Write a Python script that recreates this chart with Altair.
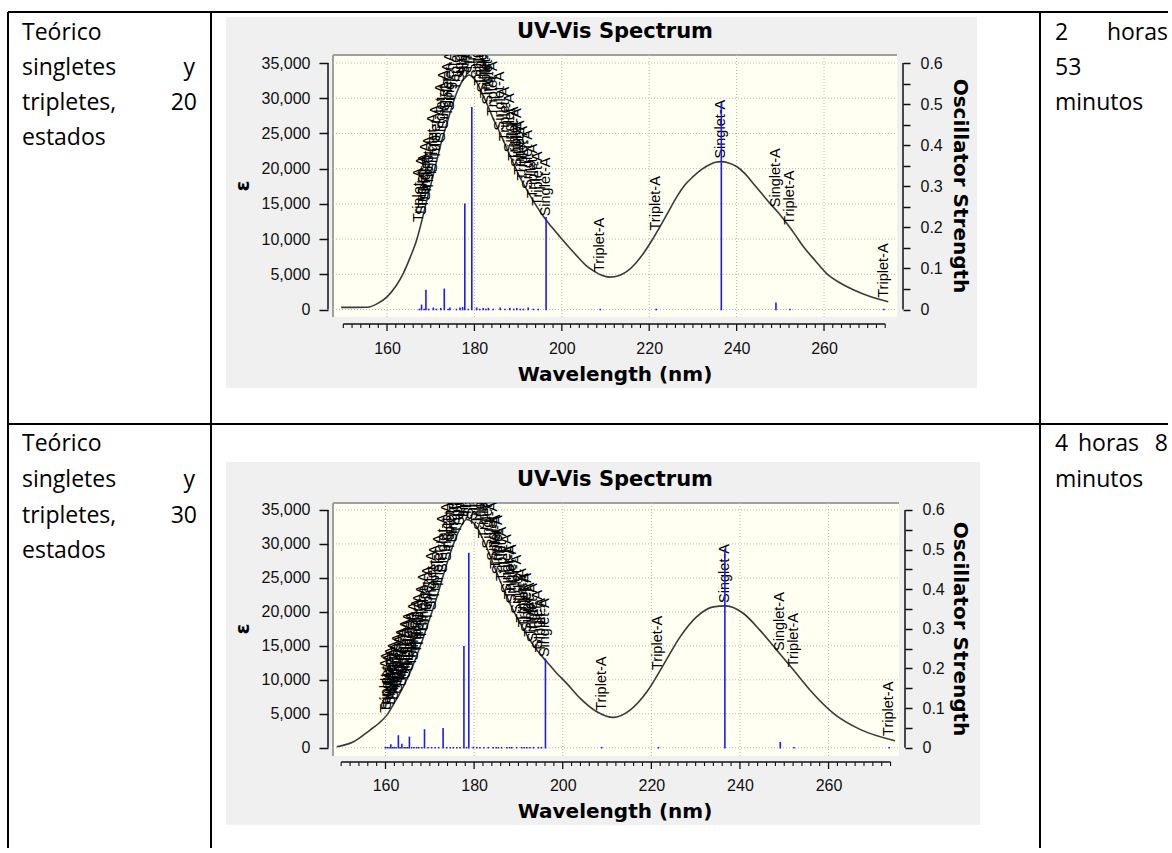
import altair as alt
import pandas as pd

# ---------------- data ----------------
# Row 1 (20 states): simulated spectrum (wavelength nm, epsilon)
r1_curve_nm = [149.5, 152.5, 155.5, 158.0, 160.0, 162.0, 163.7, 165.3, 166.8, 168.0,
               169.1, 170.3, 171.4, 172.5, 173.7, 174.8, 175.9, 177.0, 178.2, 178.8,
               179.6, 180.5, 181.6, 182.8, 184.3, 185.9, 187.4, 188.9, 190.4, 192.0,
               193.9, 195.8, 197.7, 199.6, 202.0, 204.2, 206.0, 207.5, 209.0, 211.0,
               213.0, 214.9, 216.8, 218.7, 220.6, 222.5, 224.4, 226.3, 228.2, 230.1,
               232.0, 233.9, 235.2, 236.4, 238.2, 240.0, 241.9, 243.8, 245.7, 247.6,
               249.6, 251.5, 253.4, 255.3, 257.9, 260.6, 263.6, 266.7, 270.7, 274.7]
r1_curve_eps = [300, 300, 320, 900, 1800, 3300, 5100, 7400, 9900, 12700,
                15500, 18400, 21200, 23900, 26400, 28700, 30700, 32200, 33100, 33300,
                33000, 32300, 30900, 29300, 27100, 25000, 22900, 20800, 18800, 17000,
                15000, 13200, 11700, 10300, 8600, 7100, 6000, 5400, 4900, 4600,
                4800, 5400, 6500, 8000, 9800, 11800, 13900, 16000, 17700, 18900,
                19900, 20600, 20900, 21000, 20800, 20300, 19300, 17900, 16500, 15100,
                13700, 12200, 10600, 8900, 7000, 5100, 3800, 2800, 1800, 1100]

# Row 1 transitions: wavelength, kind (S = Singlet-A, T = Triplet-A),
# oscillator strength, height (epsilon) where the label starts
r1_tr_nm = [167.4, 167.9, 168.5, 168.9, 169.5, 170.6, 171.3, 172.3, 173.1, 174.0,
            174.4, 175.9, 176.7, 177.3, 177.8, 178.6, 179.4, 180.5, 181.2, 182.0,
            182.6, 183.2, 184.3, 185.9, 187.0, 188.1, 189.0, 189.7, 190.5, 191.2,
            192.3, 193.5, 194.6, 196.4, 208.8, 221.6, 236.5, 249.0, 252.2, 273.7]
r1_tr_kind = ["T", "S", "T", "S", "T", "S", "T", "S", "S", "T",
              "S", "T", "S", "S", "S", "T", "S", "S", "T", "S",
              "T", "S", "T", "S", "T", "S", "T", "S", "T", "T",
              "S", "T", "T", "S", "T", "T", "S", "S", "T", "T"]
r1_tr_osc = [0, 0.010, 0, 0.046, 0, 0.003, 0, 0.002, 0.049, 0,
             0.003, 0, 0.003, 0.004, 0.256, 0, 0.491, 0.003, 0, 0.002,
             0, 0.002, 0, 0.003, 0, 0.002, 0, 0.002, 0, 0,
             0.003, 0, 0, 0.2235, 0, 0, 0.50, 0.015, 0, 0]
r1_tr_eps = [12000, 13000, 14000, 15000, 16500, 19000, 20900, 23400, 25200, 27000,
             27800, 30700, 31800, 32400, 32800, 33300, 33100, 32300, 31400, 30400,
             29600, 28700, 27100, 25000, 23500, 21900, 20700, 19800, 18700, 17900,
             16700, 15400, 14300, 12800, 4900, 10800, 21000, 14100, 11600, 1250]

# Row 2 (30 states)
r2_curve_nm = [149.0, 152.8, 156.5, 158.5, 160.3, 162.0, 164.0, 166.0, 167.8, 169.7,
               171.6, 173.1, 174.6, 175.7, 176.8, 178.3, 179.5, 180.6, 181.7, 182.8,
               184.3, 185.8, 187.3, 188.8, 190.7, 192.6, 194.5, 196.4, 198.6, 200.9,
               203.9, 207.7, 211.4, 215.2, 219.0, 222.7, 226.5, 230.2, 234.0, 236.8,
               240.8, 244.5, 248.3, 252.1, 255.8, 261.1, 267.1, 275.0]
r2_curve_eps = [150, 880, 2600, 3600, 4800, 6600, 8970, 11800, 14850, 18500,
                22200, 25500, 28590, 30600, 32260, 33590, 33300, 32500, 31100, 29560,
                27100, 24660, 22400, 20250, 18000, 15840, 14100, 12650, 11000, 9470,
                7300, 5300, 4470, 5540, 8240, 12160, 16320, 19260, 20740, 20880,
                19760, 17310, 14370, 11430, 8490, 5060, 2700, 1030]

r2_tr_nm = [160.0, 160.4, 160.8, 161.2, 161.6, 162.0, 162.4, 162.9, 163.3, 163.7,
            164.2, 164.6, 165.0, 165.4, 165.9, 166.4, 167.0, 167.5, 168.2, 168.8,
            169.6, 170.4, 171.2, 172.0, 173.0, 173.8, 174.6, 175.3, 176.1, 176.8,
            177.7, 178.3, 178.8, 179.8, 180.6, 181.3, 182.2, 183.2, 184.3, 185.0,
            185.5, 186.2, 187.4, 188.0, 188.5, 189.6, 190.7, 191.3, 191.9, 192.6,
            193.4, 194.5, 195.2, 196.1, 208.8, 221.6, 236.6, 249.1, 252.2, 273.7]
r2_tr_kind = ["T", "S", "T", "S", "T", "S", "T", "S", "T", "S",
              "T", "S", "T", "S", "T", "S", "T", "T", "T", "S",
              "T", "S", "T", "T", "S", "S", "T", "S", "T", "S",
              "S", "T", "S", "S", "T", "S", "T", "S", "S", "T",
              "S", "T", "S", "T", "S", "S", "T", "T", "S", "T",
              "S", "S", "T", "S", "T", "T", "S", "S", "T", "T"]
r2_tr_osc = [0, 0, 0, 0.0068, 0, 0, 0, 0.0295, 0, 0.008,
             0, 0, 0, 0.026, 0, 0, 0, 0, 0, 0.0447,
             0, 0, 0, 0, 0.048, 0, 0, 0, 0, 0,
             0.255, 0, 0.49, 0, 0, 0, 0, 0, 0, 0,
             0, 0, 0, 0, 0, 0, 0, 0, 0, 0,
             0, 0, 0, 0.223, 0, 0, 0.50, 0.0126, 0, 0]
r2_tr_eps = [4700, 5100, 5500, 5800, 6200, 6600, 7100, 7700, 8200, 8600,
             9200, 9800, 10400, 10900, 11600, 12400, 13500, 14300, 15600, 16700,
             18300, 19800, 21400, 23000, 25300, 27000, 28600, 29800, 31100, 32200,
             33100, 33600, 33500, 33100, 32500, 31600, 30400, 28900, 27100, 25900,
             25100, 24100, 22300, 21400, 20800, 19300, 18000, 17300, 16600, 15900,
             15100, 14100, 13600, 12900, 5000, 11000, 20880, 13800, 11400, 1300]

# axis ticks / labels
X_LABELS = [160, 180, 200, 220, 240, 260]
X_TICKS = list(range(150, 276, 2))
EPS_TICKS = [0, 5000, 10000, 15000, 20000, 25000, 30000, 35000]
OSC_TICKS = [0, 0.05, 0.1, 0.15, 0.2, 0.25, 0.3, 0.35, 0.4, 0.45, 0.5, 0.55, 0.6]

# ---------------- styling / layout ----------------
F_AX = "Liberation Sans"
F_TI = "DejaVu Sans"
F_DOC = "Open Sans"
AXC = "#111111"
GRID = "#b8b8b8"
BLUE = "#1a1aff"
OX = 333  # page x of the plot area's left edge

ONE = pd.DataFrame({"k": [0]})


def txt(s, x, y, size, font, weight="normal", align="left", baseline="alphabetic", angle=0):
    return alt.Chart(ONE).mark_text(
        text=s, font=font, fontSize=size, fontWeight=weight, align=align,
        baseline=baseline, angle=angle, color="black"
    ).encode(x=alt.value(x), y=alt.value(y))


def hline(x1, x2, y, color="black", width=2.0):
    return alt.Chart(ONE).mark_rule(color=color, strokeWidth=width).encode(
        x=alt.value(x1), x2=alt.value(x2), y=alt.value(y))


def vline(x, y1, y2, color="black", width=2.0):
    return alt.Chart(ONE).mark_rule(color=color, strokeWidth=width).encode(
        x=alt.value(x), y=alt.value(y1), y2=alt.value(y2))


def rect(x1, x2, y1, y2, color):
    return alt.Chart(ONE).mark_rect(color=color).encode(
        x=alt.value(x1), x2=alt.value(x2), y=alt.value(y1), y2=alt.value(y2))


def spectrum_row(L, cnm, ceps, tnm, tkind, tosc, teps, doc_layers):
    oy, w, h = L["oy"], L["w"], L["h"]
    xs = alt.Scale(domain=L["xdom"], nice=False, zero=False)
    es = alt.Scale(domain=L["ydom"], nice=False, zero=False)
    os_ = alt.Scale(domain=[v * 0.6 / 35000 for v in L["ydom"]], nice=False, zero=False)
    px = lambda v: v - OX
    py = lambda v: v - oy

    p = L["panel"]
    panel = rect(px(p[0]), px(p[1]), py(p[2]), py(p[3]), "#f0f0f0")
    cream = rect(0, w, 0, h, "#fffff2")
    frame_t = hline(0, w, 0, "#a0a0a0", 2)
    frame_l = vline(0, 0, h, "#a0a0a0", 2)

    xoff = L["xoff"]
    xaxis = alt.Axis(values=X_LABELS, orient="bottom", offset=xoff, ticks=False,
                     domain=False, grid=False, labelPadding=py(L["xlab_y"]) - (h + xoff),
                     labelBaseline="middle", labelFont=F_AX, labelFontSize=16,
                     labelColor=AXC, labelOverlap=False, title="", zindex=2)
    eaxis = alt.Axis(values=EPS_TICKS, format=",.0f", orient="left", offset=5, domain=False,
                     grid=False, tickSize=9, tickWidth=1.5, tickColor=AXC, labelPadding=9,
                     labelFont=F_AX, labelFontSize=16, labelColor=AXC, labelOverlap=False,
                     title="", zindex=2)
    oaxis = alt.Axis(values=OSC_TICKS, orient="right", offset=6, domain=False, grid=False,
                     tickSize=7, tickWidth=1.5, tickColor=AXC, labelPadding=10,
                     labelExpr="round(datum.value*100) % 10 == 0 ? format(datum.value, '.1~f') : ''",
                     labelFont=F_AX, labelFontSize=16, labelColor=AXC, labelOverlap=False,
                     title="", zindex=2)

    vgrid = alt.Chart(pd.DataFrame({"v": X_LABELS})).mark_rule(
        color=GRID, strokeDash=[1, 2], strokeWidth=1).encode(
        x=alt.X("v:Q", scale=xs, axis=xaxis), y=alt.value(0), y2=alt.value(h))
    hgrid = alt.Chart(pd.DataFrame({"v": EPS_TICKS})).mark_rule(
        color=GRID, strokeDash=[1, 2], strokeWidth=1).encode(
        y=alt.Y("v:Q", scale=es, axis=eaxis), x=alt.value(0), x2=alt.value(w))

    cdf = pd.DataFrame({"nm": cnm, "eps": ceps})
    curve = alt.Chart(cdf).mark_line(color="#3a3a3a", strokeWidth=1.6,
                                     interpolate="monotone", clip=True).encode(
        x=alt.X("nm:Q", scale=xs, axis=xaxis), y=alt.Y("eps:Q", scale=es, axis=eaxis))

    tdf = pd.DataFrame({"nm": tnm, "kind": tkind, "osc": tosc, "eps": teps})
    labels = alt.Chart(tdf).transform_calculate(
        lab="datum.kind == 'S' ? 'Singlet-A' : 'Triplet-A'"
    ).mark_text(angle=270, align="left", baseline="middle", dx=3, font=F_AX,
                fontSize=14.5, color="black", clip=True).encode(
        x=alt.X("nm:Q", scale=xs, axis=xaxis), y=alt.Y("eps:Q", scale=es, axis=eaxis),
        text="lab:N")

    sticks = alt.Chart(tdf).mark_rule(color=BLUE, strokeWidth=1.6, strokeCap="square").encode(
        x=alt.X("nm:Q", scale=xs, axis=xaxis), y=alt.Y("osc:Q", scale=os_, axis=oaxis),
        y2=alt.Y2Datum(0))

    # axis lines spanning the tick range only
    eps_dom = alt.Chart(pd.DataFrame({"v": [EPS_TICKS[0], EPS_TICKS[-1]]})).mark_line(
        color=AXC, strokeWidth=1.5).encode(x=alt.value(-5), y=alt.Y("v:Q", scale=es, axis=eaxis))
    osc_dom = alt.Chart(pd.DataFrame({"v": [OSC_TICKS[0], OSC_TICKS[-1]]})).mark_line(
        color=AXC, strokeWidth=1.5).encode(x=alt.value(w + 6), y=alt.Y("v:Q", scale=os_, axis=oaxis))

    tdf2 = pd.DataFrame({"t": X_TICKS})
    xt_major = alt.Chart(tdf2).transform_filter("datum.t % 20 == 0").mark_rule(
        color=AXC, strokeWidth=1.3).encode(
        x=alt.X("t:Q", scale=xs, axis=xaxis), y=alt.value(h + xoff), y2=alt.value(h + xoff + 7))
    xt_minor = alt.Chart(tdf2).transform_filter("datum.t % 20 != 0").mark_rule(
        color=AXC, strokeWidth=1.1).encode(
        x=alt.X("t:Q", scale=xs, axis=xaxis), y=alt.value(h + xoff), y2=alt.value(h + xoff + 4))
    x_dom = alt.Chart(pd.DataFrame({"t": [X_TICKS[0], X_TICKS[-1]]})).mark_line(
        color=AXC, strokeWidth=1.5).encode(
        x=alt.X("t:Q", scale=xs, axis=xaxis), y=alt.value(h + xoff))

    title = txt("UV-Vis Spectrum", px(615), py(L["title_y"]), 21, F_TI, "bold", "center", "middle")
    ytitle = txt("ε", px(243), py(L["ymid"]), 20, F_TI, "bold", "center", "middle", 270)
    rtitle = txt("Oscillator Strength", px(960), py(L["ymid"]), 20, F_TI, "bold", "center", "middle", 90)
    xtitle = txt("Wavelength (nm)", px(615), py(L["xtitle_y"]), 20, F_TI, "bold", "center", "middle")

    eps_group = alt.layer(hgrid, curve, labels, eps_dom)
    osc_group = alt.layer(sticks, osc_dom)

    layers = [panel, cream, frame_t, frame_l, vgrid, eps_group, osc_group,
              xt_major, xt_minor, x_dom, title, ytitle, rtitle, xtitle] + doc_layers
    return alt.layer(*layers).resolve_scale(y="independent").properties(width=w, height=h)


# ---------- row 1 ----------
L1 = dict(oy=55, w=564, h=262, xdom=[147.64, 276.7], ydom=[-1065, 36140],
          panel=(226, 977, 17, 388), title_y=32, ymid=186, xoff=7, xlab_y=348, xtitle_y=375)
o1 = L1["oy"]
doc1 = [
    hline(8 - OX, 1168 - OX, 12 - o1),
    hline(8 - OX, 1168 - OX, 424 - o1),
    vline(8 - OX, 12 - o1, 424 - o1),
    vline(211 - OX, 12 - o1, 424 - o1),
    vline(1040 - OX, 12 - o1, 424 - o1),
    txt("Teórico", 22 - OX, 40 - o1, 23, F_DOC),
    txt("singletes", 22 - OX, 75 - o1, 23, F_DOC),
    txt("y", 195 - OX, 75 - o1, 23, F_DOC, align="right"),
    txt("tripletes,", 22 - OX, 110 - o1, 23, F_DOC),
    txt("20", 197 - OX, 110 - o1, 23, F_DOC, align="right"),
    txt("estados", 22 - OX, 145 - o1, 23, F_DOC),
    txt("2", 1055 - OX, 40 - o1, 23, F_DOC),
    txt("horas", 1168 - OX, 40 - o1, 23, F_DOC, align="right"),
    txt("53", 1055 - OX, 75 - o1, 23, F_DOC),
    txt("minutos", 1055 - OX, 110 - o1, 23, F_DOC),
]
row1 = spectrum_row(L1, r1_curve_nm, r1_curve_eps, r1_tr_nm, r1_tr_kind, r1_tr_osc, r1_tr_eps, doc1)

# ---------- row 2 ----------
L2 = dict(oy=503, w=566, h=253, xdom=[148.15, 275.9], ydom=[-1220, 36030],
          panel=(226, 980, 462, 825), title_y=480, ymid=629, xoff=6, xlab_y=785, xtitle_y=812)
o2 = L2["oy"]
doc2 = [
    vline(8 - OX, 424 - o2, 848 - o2),
    vline(211 - OX, 424 - o2, 848 - o2),
    vline(1040 - OX, 424 - o2, 848 - o2),
    txt("Teórico", 22 - OX, 451 - o2, 23, F_DOC),
    txt("singletes", 22 - OX, 487 - o2, 23, F_DOC),
    txt("y", 195 - OX, 487 - o2, 23, F_DOC, align="right"),
    txt("tripletes,", 22 - OX, 523 - o2, 23, F_DOC),
    txt("30", 197 - OX, 523 - o2, 23, F_DOC, align="right"),
    txt("estados", 22 - OX, 558 - o2, 23, F_DOC),
    txt("4", 1055 - OX, 451 - o2, 23, F_DOC),
    txt("horas", 1078 - OX, 451 - o2, 23, F_DOC),
    txt("8", 1168 - OX, 451 - o2, 23, F_DOC, align="right"),
    txt("minutos", 1055 - OX, 487 - o2, 23, F_DOC),
]
row2 = spectrum_row(L2, r2_curve_nm, r2_curve_eps, r2_tr_nm, r2_tr_kind, r2_tr_osc, r2_tr_eps, doc2)

chart = alt.vconcat(row1, row2, spacing=o2 - (o1 + L1["h"]), bounds="flush").properties(
    padding={"left": 7, "top": 11, "right": 0, "bottom": 0}
).configure_view(strokeWidth=0)

chart.save("out.html", embed_options={"renderer": "svg", "actions": False})
